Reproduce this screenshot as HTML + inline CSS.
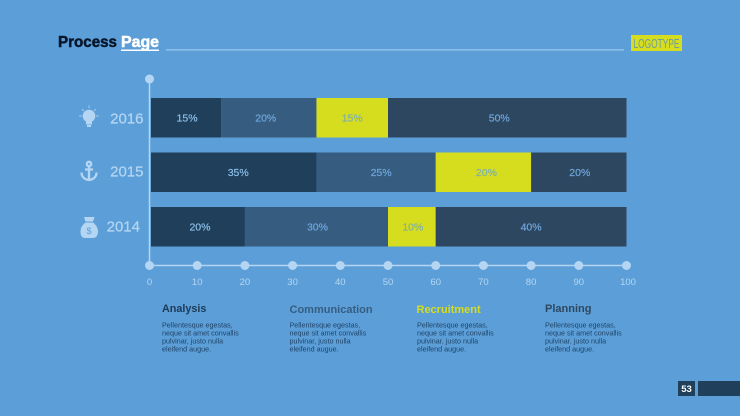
<!DOCTYPE html>
<html lang="en">
<head>
<meta charset="utf-8">
<title>Process Page</title>
<style>
html,body{margin:0;padding:0;width:740px;height:416px;overflow:hidden;background:#5c9fd8}
svg{display:block;font-family:"Liberation Sans",sans-serif}
</style>
</head>
<body>
<svg id="chart" width="740" height="416" viewBox="0 0 740 416" xmlns="http://www.w3.org/2000/svg">
  <rect width="740" height="416" fill="#5c9fd8"/>
  <text x="58" y="47" font-size="15.5" font-weight="700" fill="#07172b" stroke="#07172b" stroke-width="0.5" textLength="59" lengthAdjust="spacingAndGlyphs">Process</text>
  <text x="121" y="47" font-size="15.5" font-weight="700" fill="#ffffff" stroke="#ffffff" stroke-width="0.5" textLength="38" lengthAdjust="spacingAndGlyphs">Page</text>
  <rect x="121" y="49.5" width="38" height="1.5" fill="#ffffff"/>
  <rect x="166" y="49" width="458" height="1.6" fill="#8cbfea"/>
  <rect x="631" y="35" width="51" height="16" fill="#d6dc1e"/>
  <text x="633.5" y="48" font-size="12.5" fill="#6b9ea0" textLength="46" lengthAdjust="spacingAndGlyphs">LOGOTYPE</text>

  <g id="bars"></g>
  <g id="axes"></g>

  <g fill="#b5d6f2" stroke="#b5d6f2">
    <circle cx="89" cy="116" r="6.3" stroke="none"/>
    <rect x="86" y="121.500" width="6" height="3" stroke="none"/>
    <rect x="87" y="125" width="4" height="2" stroke="none"/>
    <path d="M79 116h3M96 116h3M89 105.500v2.500M82 109l1.800 1.800M96 109l-1.800 1.800" stroke-width="0.8" fill="none"/>
  </g>
  <g fill="none" stroke="#b5d6f2" stroke-width="2.300">
    <circle cx="89" cy="164" r="2.200"/>
    <path d="M89 166v14M85 169.500h8M81.500 172.500c0 5 4 7 7.500 7.500c3.500-.5 7.500-2.500 7.500-7.500"/>
  </g>
  <g>
    <path d="M85.500 221.500l-1.500-4.500h10.500l-1.500 4.500z" fill="#b5d6f2"/>
    <path d="M85.500 222.500h7.500c2.500 2 5 5 5 9c0 4.500-2.500 6.500-5 6.500h-8c-2.500 0-4.500-2-4.500-6.500c0-4 2.500-7 5-9z" fill="#b5d6f2"/>
    <text x="89" y="234" font-size="9" text-anchor="middle" fill="#5c9fd8">$</text>
  </g>

  <g>
    <text x="162" y="312" font-size="10.800" font-weight="700" fill="#1d3a56">Analysis</text>
    <text font-size="7.200" fill="#1f4266"><tspan x="162" y="327.500">Pellentesque egestas,</tspan><tspan x="162" y="335.500">neque sit amet convallis</tspan><tspan x="162" y="343.500">pulvinar, justo nulla</tspan><tspan x="162" y="351.500">eleifend augue.</tspan></text>
  </g>
  <g>
    <text x="289.500" y="313" font-size="11" font-weight="700" fill="#365d80">Communication</text>
    <text font-size="7.200" fill="#1f4266"><tspan x="289.500" y="327.500">Pellentesque egestas,</tspan><tspan x="289.500" y="335.500">neque sit amet convallis</tspan><tspan x="289.500" y="343.500">pulvinar, justo nulla</tspan><tspan x="289.500" y="351.500">eleifend augue.</tspan></text>
  </g>
  <g>
    <text x="416.500" y="313" font-size="11" font-weight="700" fill="#d6dc1e">Recruitment</text>
    <text font-size="7.200" fill="#1f4266"><tspan x="417" y="327.500">Pellentesque egestas,</tspan><tspan x="417" y="335.500">neque sit amet convallis</tspan><tspan x="417" y="343.500">pulvinar, justo nulla</tspan><tspan x="417" y="351.500">eleifend augue.</tspan></text>
  </g>
  <g>
    <text x="545" y="312" font-size="11" font-weight="700" fill="#2e4760">Planning</text>
    <text font-size="7.200" fill="#1f4266"><tspan x="545" y="327.500">Pellentesque egestas,</tspan><tspan x="545" y="335.500">neque sit amet convallis</tspan><tspan x="545" y="343.500">pulvinar, justo nulla</tspan><tspan x="545" y="351.500">eleifend augue.</tspan></text>
  </g>

  <rect x="678" y="381" width="17" height="15" fill="#1f3f5a"/>
  <text x="686.500" y="392" font-size="9.500" font-weight="700" text-anchor="middle" fill="#ffffff">53</text>
  <rect x="698" y="381" width="42" height="15" fill="#1f3f5a"/>
</svg>
<script>
var years = ['2016', '2015', '2014'];
var analysis = [15, 35, 20];
var communication = [20, 25, 30];
var recruitment = [15, 20, 10];
var planning = [50, 20, 40];
var xTicks = [0, 10, 20, 30, 40, 50, 60, 70, 80, 90, 100];

var NS = 'http://www.w3.org/2000/svg';
var seriesList = [analysis, communication, recruitment, planning];
var seriesKeys = ['analysis', 'communication', 'recruitment', 'planning'];
var seriesFills = ['#1f3f5a', '#365d80', '#d6dc1e', '#2e4760'];
var labelFills = ['#8cbfea', '#6ea6dc', '#7fb0a8', '#6ea6dc'];

/* Layout-only horizontal label nudges, per row and series */
function labelNudge(row, s) {
  var nudges = [[1, -3, 0, -8], [4.5, 5, 3, 1], [2, 1, 1, 0]];
  return nudges[row][s];
}
function yearAnchor(row) {
  return [[143.5, 25.5], [143.5, 24], [140, 24.5]][row];
}

function xScale(v) { return 149.5 + v * 4.77; }
function rowTop(i) { return 98 + i * 54.5; }
var BAR_HEIGHT = 39.5;
var AXIS_Y = 265.5;
var BAR_START = 151;

function make(tag, attrs, parent, text) {
  var el = document.createElementNS(NS, tag);
  for (var k in attrs) { el.setAttribute(k, attrs[k]); }
  if (text !== undefined) { el.textContent = text; }
  parent.appendChild(el);
  return el;
}

var axes = document.getElementById('axes');
var bars = document.getElementById('bars');

var yAxis = make('line', {x1: 149.5, x2: 149.5, y1: 79, y2: AXIS_Y, stroke: '#b5d6f2', 'stroke-width': 1.5}, axes);



var yCap = make('circle', {cx: 149.5, cy: 79, r: 4.5, fill: '#b5d6f2'}, axes);



var xAxis = make('line', {x1: 149.5, x2: xScale(100), y1: AXIS_Y, y2: AXIS_Y, stroke: '#b5d6f2', 'stroke-width': 1.5}, axes);



xTicks.forEach(function (t) {
  var dot = make('circle', {cx: xScale(t), cy: AXIS_Y, r: 4.5, fill: '#b5d6f2'}, axes);
  
  
  var label = make('text', {x: xScale(t) + (t === 100 ? 1.5 : 0), y: 285, 'font-size': 9.5, 'text-anchor': 'middle', fill: '#b5d6f2'}, axes, String(t));
  
  
});

years.forEach(function (year, i) {
  var pos = yearAnchor(i);
  var yearLabel = make('text', {x: pos[0], y: rowTop(i) + pos[1], 'font-size': 15, 'text-anchor': 'end', fill: '#b5d6f2', stroke: '#b5d6f2', 'stroke-width': 0.2}, axes, year);
  
  

  var cum = 0;
  seriesList.forEach(function (series, s) {
    var v = series[i];
    var x0 = Math.max(xScale(cum), BAR_START);
    var x1 = xScale(cum + v);
    var seg = make('rect', {x: x0, y: rowTop(i), width: x1 - x0, height: BAR_HEIGHT, fill: seriesFills[s]}, bars);
    
    seg.setAttribute('data-series', seriesKeys[s]);
    
    var val = make('text', {x: (x0 + x1) / 2 + labelNudge(i, s), y: rowTop(i) + 23.5, 'font-size': 10.5, 'text-anchor': 'middle', fill: labelFills[s], stroke: labelFills[s], 'stroke-width': 0.2}, bars, v + '%');
    
    
    cum += v;
  });
});
</script>
</body>
</html>
